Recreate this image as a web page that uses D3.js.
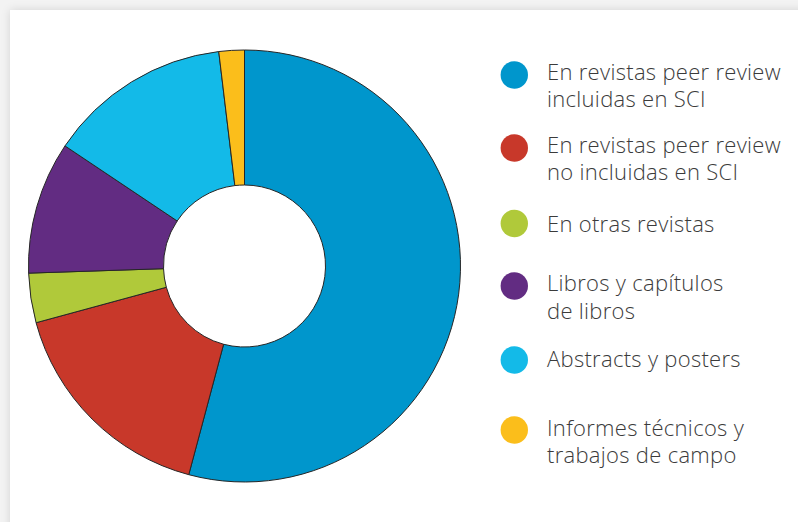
<!DOCTYPE html>
<html>
<head>
<meta charset="utf-8">
<script src="https://cdn.jsdelivr.net/npm/d3@7"></script>
<style>
  html, body { margin: 0; padding: 0; }
  body { width: 798px; height: 522px; background: #f3f3f3; overflow: hidden; position: relative; }
  .card { position: absolute; left: 10px; top: 10px; width: 820px; height: 540px; background: #fff; box-shadow: 0 0 9px rgba(0,0,0,0.13); }
  svg { position: absolute; left: 0; top: 0; }
  .legend text { font-family: "Open Sans", sans-serif; font-weight: 300; font-size: 22px; letter-spacing: 0.3px; fill: #3b3b3b; }
</style>
</head>
<body>
<div class="card"></div>
<div id="chart"></div>
<script>
// legend labels, each split in the lines shown
const categories = [
  ["En revistas peer review", "incluidas en SCI"],
  ["En revistas peer review", "no incluidas en SCI"],
  ["En otras revistas"],
  ["Libros y capítulos", "de libros"],
  ["Abstracts y posters"],
  ["Informes técnicos y", "trabajos de campo"]
];
// share of each category (%)
const values = [54.1, 16.6, 3.7, 9.9, 13.7, 1.9];
const colors = ["#0096cc", "#c8382a", "#b0c93a", "#622c82", "#13bae8", "#fbbe1b"];

const w = 798, h = 522;
const cx = 244.5, cy = 266;
const outerR = 216, innerR = 81;

const svg = d3.select("#chart").append("svg")
  .attr("width", w)
  .attr("height", h);

const pie = d3.pie().sort(null).value(d => d);
const arc = d3.arc().innerRadius(innerR).outerRadius(outerR);

// donut
svg.append("g")
  .attr("transform", `translate(${cx},${cy})`)
  .selectAll("path")
  .data(pie(values))
  .enter()
  .append("path")
  .attr("d", arc)
  .attr("fill", (d, i) => colors[i])
  .attr("stroke", "#262626")
  .attr("stroke-width", 1);

// legend - row positions
const legendY = [75, 148, 223.5, 286, 360, 430];
const baseOffset = [4.5, 4.5, 8, 5, 6.5, 5.5];
const lineH = 27.5;

const legend = svg.append("g").attr("class", "legend");
const rows = legend.selectAll("g")
  .data(categories)
  .enter()
  .append("g")
  .attr("transform", (d, i) => `translate(0,${legendY[i]})`);

rows.append("circle")
  .attr("cx", 514.3)
  .attr("cy", 0)
  .attr("r", 13.7)
  .attr("fill", (d, i) => colors[i]);

rows.each((d, i, node) => {
  const t = d3.select(node[i]).append("text")
    .attr("x", 547)
    .attr("y", baseOffset[i]);
  d.forEach((line, j) => {
    t.append("tspan")
      .attr("x", 547)
      .attr("dy", j === 0 ? 0 : lineH)
      .text(line);
  });
});
</script>
</body>
</html>
